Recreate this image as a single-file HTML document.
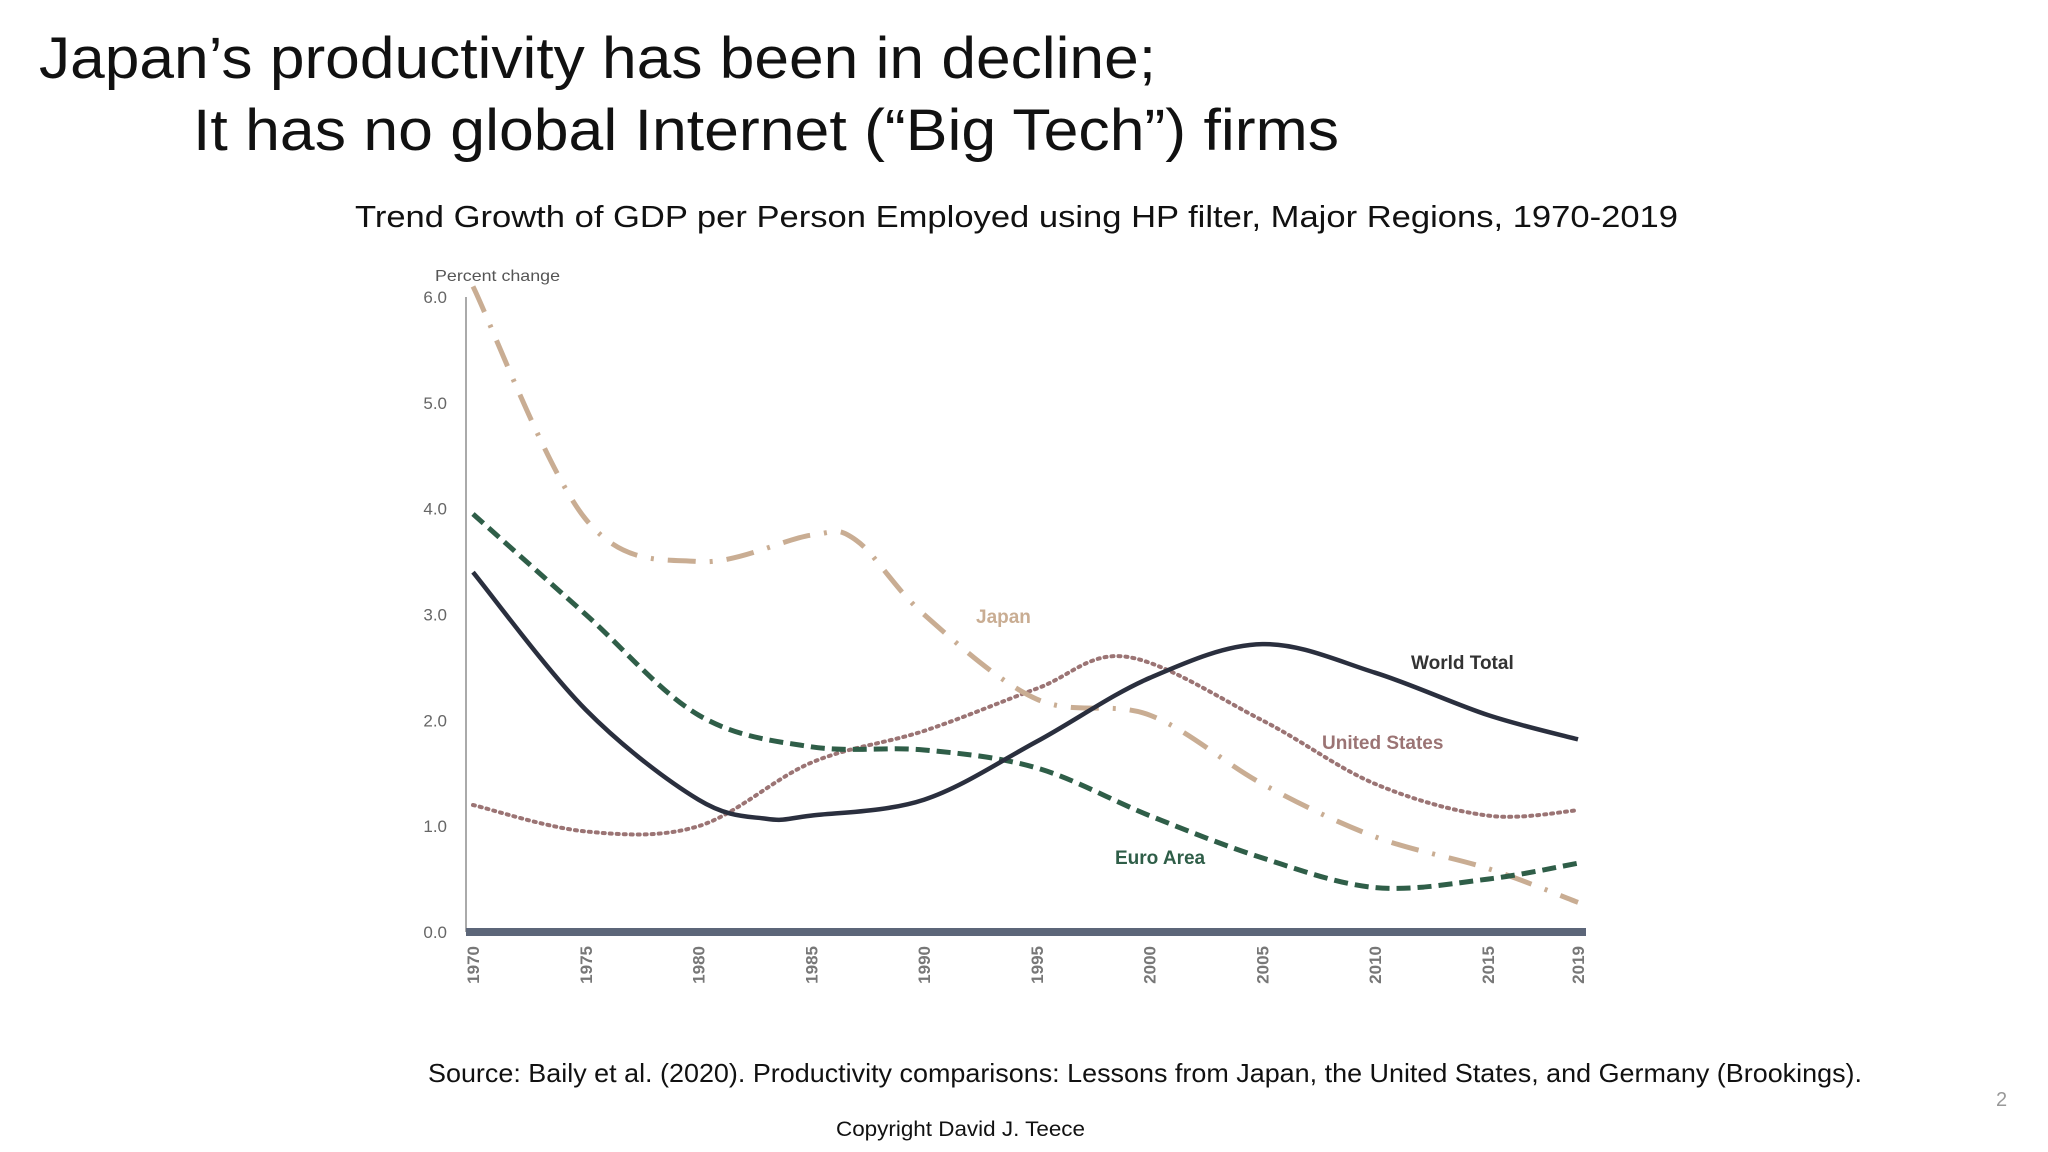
<!DOCTYPE html>
<html><head><meta charset="utf-8"><style>
html,body{margin:0;padding:0;background:#fff;}
svg{display:block;font-family:"Liberation Sans",sans-serif;}
</style></head><body>
<svg id="c" width="2048" height="1152" viewBox="0 0 2048 1152">
<text x="39" y="78" font-size="58" textLength="1117" lengthAdjust="spacingAndGlyphs" fill="#111">Japan’s productivity has been in decline;</text>
<text x="193" y="150" font-size="58" textLength="1146" lengthAdjust="spacingAndGlyphs" fill="#111">It has no global Internet (“Big Tech”) firms</text>
<text x="355" y="227" font-size="31" textLength="1323" lengthAdjust="spacingAndGlyphs" fill="#111">Trend Growth of GDP per Person Employed using HP filter, Major Regions, 1970-2019</text>
<text x="435" y="281" font-size="16" textLength="125" lengthAdjust="spacingAndGlyphs" fill="#555">Percent change</text>
<g id="plot"></g>
<text x="428" y="1082" font-size="26" textLength="1434" lengthAdjust="spacingAndGlyphs" fill="#111">Source: Baily et al. (2020). Productivity comparisons: Lessons from Japan, the United States, and Germany (Brookings).</text>
<text x="836" y="1136" font-size="21" textLength="249" lengthAdjust="spacingAndGlyphs" fill="#111">Copyright David J. Teece</text>
<text x="1996" y="1106" font-size="20" fill="#999">2</text>
</svg>
<script>
const years=[1970,1975,1980,1985,1990,1995,2000,2005,2010,2015,2019];
const tickVals=[0,1,2,3,4,5,6];
const tickLabels=["0.0","1.0","2.0","3.0","4.0","5.0","6.0"];
const worldYears=[1970,1975,1980,1983,1985,1990,1995,2000,2005,2010,2015,2019];
const worldVals=[3.4,2.1,1.25,1.07,1.1,1.25,1.8,2.4,2.72,2.45,2.05,1.82];
const euroYears=[1970,1975,1980,1985,1990,1995,2000,2005,2010,2015,2019];
const euroVals=[3.95,3.0,2.05,1.75,1.72,1.55,1.1,0.7,0.42,0.5,0.65];
const usYears=[1970,1975,1980,1985,1990,1995,1999,2005,2010,2015,2019];
const usVals=[1.2,0.95,1.0,1.6,1.9,2.3,2.6,2.0,1.4,1.1,1.15];
const japanYears=[1970,1975,1980,1985,1987,1990,1995,2000,2005,2010,2015,2019];
const japanVals=[6.1,3.9,3.5,3.75,3.7,3.0,2.2,2.05,1.4,0.9,0.6,0.28];

const NS="http://www.w3.org/2000/svg";
const g=document.getElementById('plot');
const X0=473,X1=1578,Y0=932,Y6=297;
const xs=y=>X0+(y-1970)/(2019-1970)*(X1-X0);
const ys=v=>Y0+(v/6)*(Y6-Y0);
function mk(t,a){const e=document.createElementNS(NS,t);for(const k in a)e.setAttribute(k,a[k]);g.appendChild(e);return e;}
let e=mk('line',{x1:466,y1:297,x2:466,y2:932,stroke:'#aaa','stroke-width':2});


e=mk('line',{x1:466,y1:932,x2:1586,y2:932,stroke:'#5c6679','stroke-width':8});


tickVals.forEach((v,i)=>{
 const t=mk('text',{x:447,y:ys(v)+6,'font-size':17,'text-anchor':'end',fill:'#666'});
 t.textContent=tickLabels[i];
 
 
});
years.forEach(y=>{
 const t=mk('text',{x:0,y:0,'font-size':17,'font-weight':'bold','text-anchor':'end',fill:'#777',transform:`translate(${xs(y)+6},946) rotate(-90)`});
 t.textContent=String(y);
 
 
});
function path(yr,vals){
 const p=yr.map((y,i)=>[xs(y),ys(vals[i])]);
 let d=`M${p[0][0]},${p[0][1]}`;
 for(let i=0;i<p.length-1;i++){
  const p0=p[Math.max(i-1,0)],p1=p[i],p2=p[i+1],p3=p[Math.min(i+2,p.length-1)];
  const c1=[p1[0]+(p2[0]-p0[0])/6,p1[1]+(p2[1]-p0[1])/6];
  const c2=[p2[0]-(p3[0]-p1[0])/6,p2[1]-(p3[1]-p1[1])/6];
  d+=` C${c1[0]},${c1[1]} ${c2[0]},${c2[1]} ${p2[0]},${p2[1]}`;
 }
 return d;
}
e=mk('path',{d:path(usYears,usVals),fill:'none',stroke:'#9b7474','stroke-width':4,'stroke-dasharray':'2 5','stroke-linecap':'round'});


e=mk('path',{d:path(japanYears,japanVals),fill:'none',stroke:'#c9ad93','stroke-width':5,'stroke-dasharray':'28 14 3 14'});


e=mk('path',{d:path(euroYears,euroVals),fill:'none',stroke:'#2f5e48','stroke-width':5,'stroke-dasharray':'14 7'});


e=mk('path',{d:path(worldYears,worldVals),fill:'none',stroke:'#2a2f3e','stroke-width':4.5});


[['Japan',976,623,'#c9ad93','japan-label'],['World Total',1411,669,'#333','world-total-label'],['United States',1322,749,'#9b7474','united-states-label'],['Euro Area',1115,864,'#2f5e48','euro-area-label']].forEach(a=>{
 const t=mk('text',{x:a[1],y:a[2],'font-size':19,'font-weight':'bold',fill:a[3]});
 t.textContent=a[0];
 
 
});
</script>
</body></html>
